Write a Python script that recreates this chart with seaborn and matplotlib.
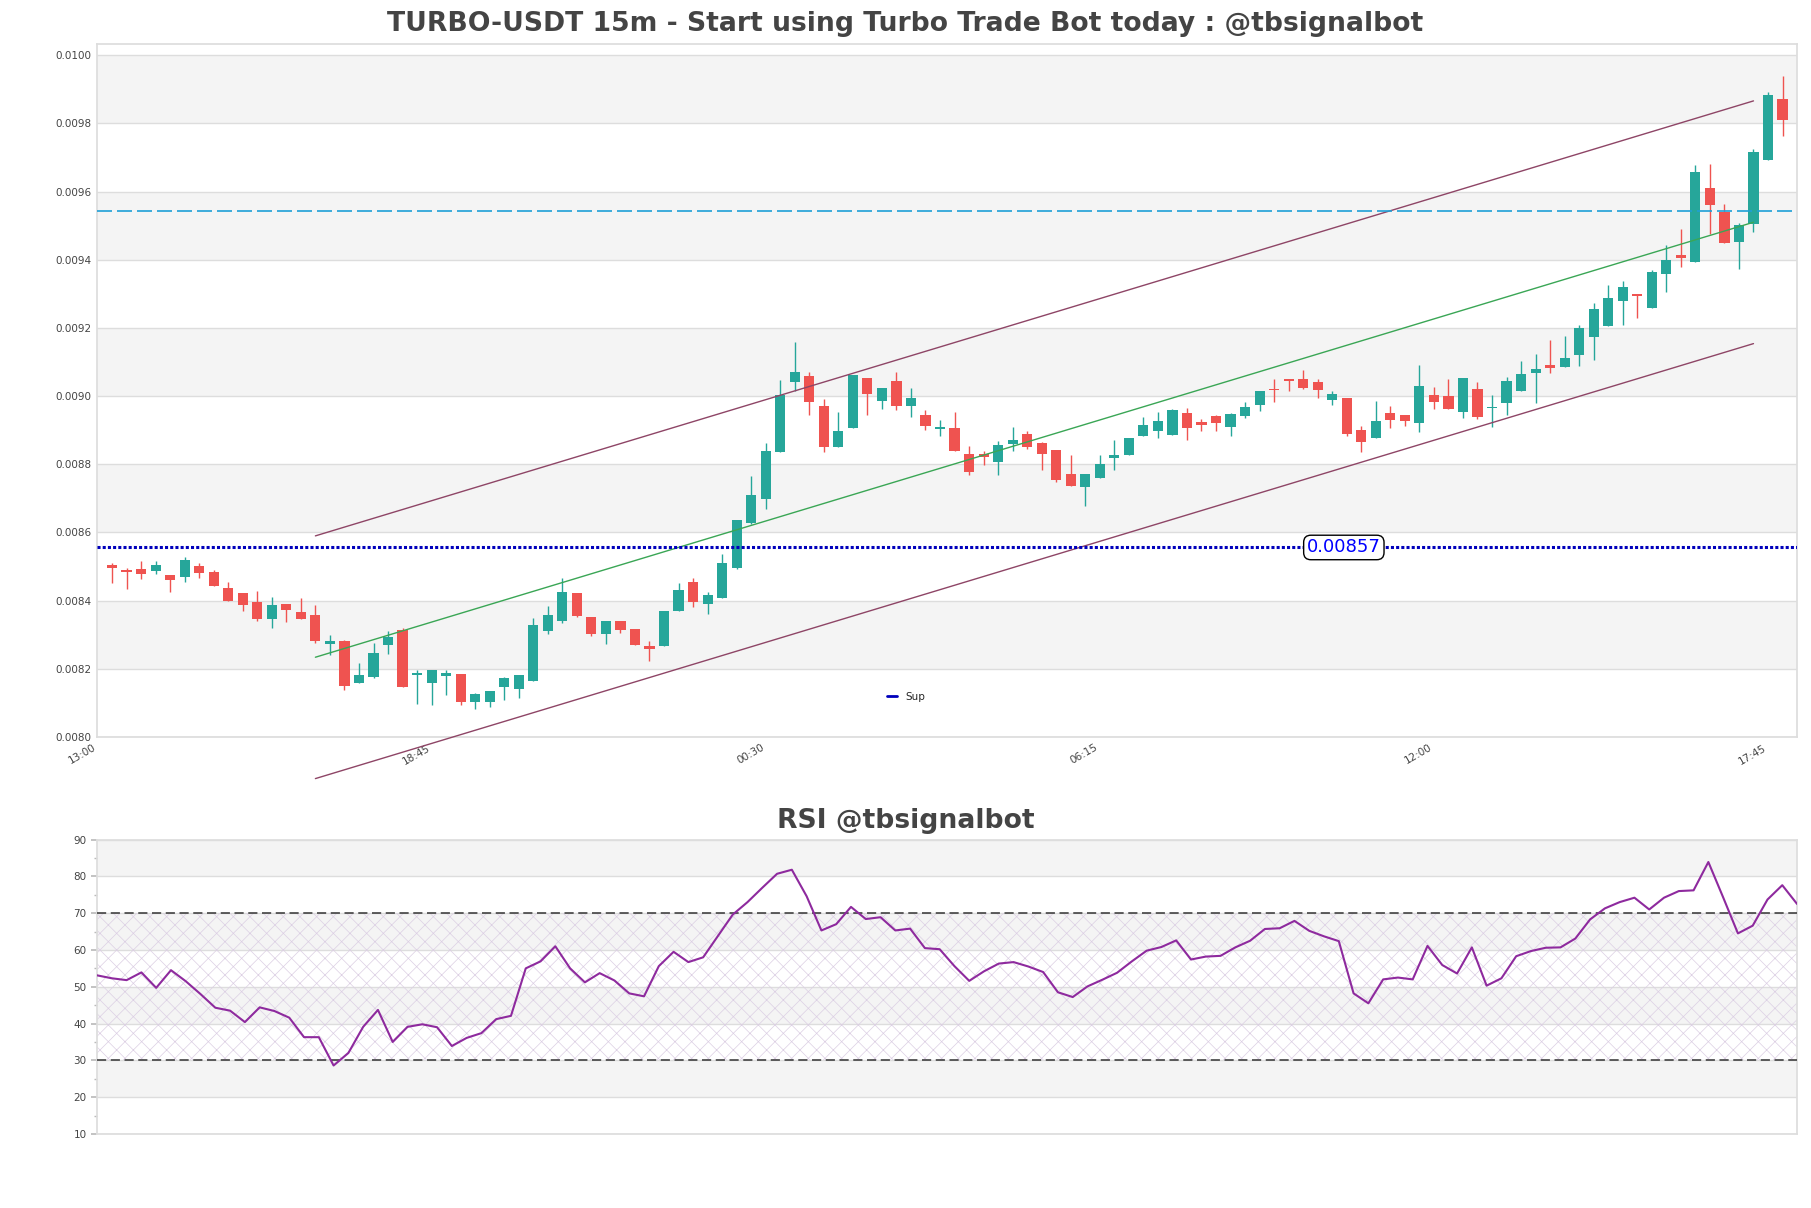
import numpy as np
import pandas as pd
import matplotlib
matplotlib.use("Agg")
import matplotlib.pyplot as plt
import seaborn as sns
from matplotlib.ticker import MultipleLocator

# 15m candles, first one is 13:15
opens = [0.008504, 0.008489, 0.008494, 0.008487, 0.008475, 0.008468, 0.008501, 0.008483, 0.008436, 0.008422,
         0.008395, 0.008345, 0.008389, 0.008366, 0.008357, 0.008272, 0.008283, 0.008158, 0.008175, 0.008270,
         0.008314, 0.008182, 0.008158, 0.008179, 0.008186, 0.008102, 0.008102, 0.008146, 0.008140, 0.008163,
         0.008311, 0.008340, 0.008422, 0.008351, 0.008302, 0.008339, 0.008316, 0.008266, 0.008267, 0.008370,
         0.008454, 0.008390, 0.008407, 0.008497, 0.008628, 0.008697, 0.008836, 0.009041, 0.009060, 0.008972,
         0.008850, 0.008906, 0.009053, 0.008985, 0.009043, 0.008970, 0.008946, 0.008904, 0.008905, 0.008831,
         0.008831, 0.008806, 0.008860, 0.008889, 0.008863, 0.008842, 0.008772, 0.008734, 0.008761, 0.008817,
         0.008828, 0.008884, 0.008899, 0.008887, 0.008951, 0.008925, 0.008942, 0.008908, 0.008943, 0.008975,
         0.009019, 0.009046, 0.009050, 0.009041, 0.008989, 0.008995, 0.008901, 0.008876, 0.008951, 0.008944,
         0.008920, 0.009004, 0.009000, 0.008952, 0.009022, 0.008964, 0.008981, 0.009014, 0.009068, 0.009091,
         0.009085, 0.009120, 0.009173, 0.009205, 0.009279, 0.009300, 0.009258, 0.009358, 0.009415, 0.009393,
         0.009610, 0.009539, 0.009452, 0.009505, 0.009694, 0.009872]
highs = [0.008509, 0.008497, 0.008516, 0.008516, 0.008475, 0.008527, 0.008510, 0.008491, 0.008454, 0.008422,
         0.008428, 0.008410, 0.008389, 0.008407, 0.008386, 0.008298, 0.008286, 0.008216, 0.008275, 0.008312,
         0.008321, 0.008198, 0.008198, 0.008198, 0.008186, 0.008130, 0.008134, 0.008175, 0.008182, 0.008348,
         0.008383, 0.008465, 0.008422, 0.008351, 0.008339, 0.008339, 0.008316, 0.008283, 0.008369, 0.008451,
         0.008465, 0.008424, 0.008536, 0.008638, 0.008765, 0.008861, 0.009046, 0.009160, 0.009072, 0.008992,
         0.008952, 0.009063, 0.009053, 0.009025, 0.009072, 0.009025, 0.008959, 0.008931, 0.008952, 0.008855,
         0.008840, 0.008867, 0.008909, 0.008897, 0.008865, 0.008842, 0.008828, 0.008772, 0.008828, 0.008870,
         0.008877, 0.008939, 0.008954, 0.008961, 0.008966, 0.008933, 0.008945, 0.008951, 0.008983, 0.009015,
         0.009050, 0.009051, 0.009077, 0.009049, 0.009015, 0.008995, 0.008911, 0.008986, 0.008971, 0.008944,
         0.009090, 0.009027, 0.009050, 0.009054, 0.009042, 0.009004, 0.009056, 0.009103, 0.009123, 0.009164,
         0.009175, 0.009210, 0.009274, 0.009327, 0.009337, 0.009300, 0.009371, 0.009442, 0.009489, 0.009678,
         0.009680, 0.009563, 0.009507, 0.009725, 0.009893, 0.009940]
lows = [0.008453, 0.008435, 0.008463, 0.008479, 0.008426, 0.008455, 0.008467, 0.008443, 0.008399, 0.008370,
        0.008340, 0.008320, 0.008337, 0.008345, 0.008275, 0.008242, 0.008137, 0.008158, 0.008173, 0.008243,
        0.008146, 0.008097, 0.008093, 0.008123, 0.008094, 0.008083, 0.008088, 0.008109, 0.008114, 0.008163,
        0.008302, 0.008334, 0.008352, 0.008296, 0.008272, 0.008305, 0.008270, 0.008223, 0.008267, 0.008370,
        0.008381, 0.008361, 0.008407, 0.008494, 0.008626, 0.008670, 0.008836, 0.009014, 0.008946, 0.008836,
        0.008850, 0.008906, 0.008946, 0.008961, 0.008959, 0.008938, 0.008902, 0.008882, 0.008839, 0.008769,
        0.008797, 0.008769, 0.008840, 0.008844, 0.008784, 0.008749, 0.008737, 0.008679, 0.008761, 0.008784,
        0.008828, 0.008884, 0.008878, 0.008887, 0.008870, 0.008899, 0.008899, 0.008884, 0.008937, 0.008955,
        0.008984, 0.009014, 0.009022, 0.008995, 0.008975, 0.008884, 0.008835, 0.008876, 0.008906, 0.008911,
        0.008894, 0.008961, 0.008961, 0.008937, 0.008934, 0.008908, 0.008946, 0.009014, 0.008979, 0.009068,
        0.009085, 0.009088, 0.009105, 0.009205, 0.009210, 0.009229, 0.009258, 0.009305, 0.009380, 0.009393,
        0.009475, 0.009449, 0.009374, 0.009482, 0.009694, 0.009764]
closes = [0.008496, 0.008485, 0.008479, 0.008506, 0.008461, 0.008519, 0.008481, 0.008443, 0.008399, 0.008387,
          0.008345, 0.008386, 0.008373, 0.008345, 0.008282, 0.008281, 0.008149, 0.008182, 0.008245, 0.008292,
          0.008146, 0.008188, 0.008198, 0.008187, 0.008102, 0.008125, 0.008134, 0.008172, 0.008182, 0.008330,
          0.008357, 0.008425, 0.008354, 0.008302, 0.008339, 0.008313, 0.008270, 0.008258, 0.008369, 0.008430,
          0.008397, 0.008416, 0.008510, 0.008638, 0.008711, 0.008840, 0.009002, 0.009070, 0.008982, 0.008850,
          0.008899, 0.009063, 0.009005, 0.009025, 0.008972, 0.008993, 0.008912, 0.008905, 0.008839, 0.008777,
          0.008821, 0.008857, 0.008872, 0.008852, 0.008831, 0.008755, 0.008737, 0.008772, 0.008801, 0.008828,
          0.008877, 0.008916, 0.008927, 0.008958, 0.008905, 0.008914, 0.008920, 0.008948, 0.008969, 0.009015,
          0.009017, 0.009044, 0.009025, 0.009017, 0.009007, 0.008889, 0.008864, 0.008927, 0.008931, 0.008928,
          0.009030, 0.008982, 0.008961, 0.009054, 0.008940, 0.008966, 0.009045, 0.009066, 0.009079, 0.009081,
          0.009112, 0.009200, 0.009257, 0.009289, 0.009319, 0.009293, 0.009363, 0.009398, 0.009405, 0.009657,
          0.009561, 0.009449, 0.009502, 0.009716, 0.009884, 0.009811]

rsi = [53.1, 52.3, 51.8, 53.9, 49.7, 54.5, 51.5, 48.0, 44.3, 43.5,
       40.4, 44.4, 43.4, 41.6, 36.3, 36.3, 28.6, 32.0, 39.1, 43.7,
       35.0, 39.1, 39.8, 39.0, 33.9, 36.1, 37.4, 41.2, 42.1, 55.0,
       56.9, 61.0, 55.0, 51.2, 53.7, 51.7, 48.2, 47.4, 55.6, 59.5,
       56.7, 58.0, 63.8, 69.6, 73.0, 76.9, 80.7, 81.8, 74.6, 65.3,
       67.0, 71.7, 68.4, 68.9, 65.3, 65.8, 60.5, 60.2, 55.6, 51.6,
       54.2, 56.3, 56.7, 55.5, 54.0, 48.5, 47.2, 50.1, 51.9, 53.8,
       56.9, 59.8, 60.8, 62.6, 57.4, 58.2, 58.4, 60.7, 62.5, 65.7,
       65.9, 67.9, 65.2, 63.7, 62.4, 48.2, 45.5, 52.0, 52.5, 52.0,
       61.1, 55.9, 53.6, 60.7, 50.3, 52.3, 58.3, 59.7, 60.6, 60.7,
       63.1, 68.3, 71.3, 73.0, 74.2, 71.0, 74.2, 76.0, 76.2, 83.9,
       74.3, 64.5, 66.6, 73.7, 77.6, 72.5]

# tick every 23 candles, starting one slot before the first candle (13:00)
tick_pos = [-1, 22, 45, 68, 91, 114]
tick_labels = ["13:00", "18:45", "00:30", "06:15", "12:00", "17:45"]

sup_price = 0.008556
sup_label = "0.00857"
res_price = 0.009543

# regression channel
chan_x = [14, 113]
chan_mid = [0.008234, 0.009510]
chan_half = 0.000356

title = "TURBO-USDT 15m - Start using Turbo Trade Bot today : @tbsignalbot"
rsi_title = "RSI @tbsignalbot"

sns.set_theme(style="white")
plt.rcParams['font.family'] = ['DejaVu Sans']
plt.rcParams['hatch.linewidth'] = 0.5

GREEN = '#26a69a'
RED = '#ef5350'
BAND = '#f4f4f4'
GRID = '#dddddd'
TXT = '#444444'

fig = plt.figure(figsize=(18.11, 12.08), dpi=100)
ax = fig.add_axes([0.0536, 0.3899, 0.9387, 0.5737])
ax2 = fig.add_axes([0.0536, 0.0613, 0.9387, 0.2437])

# ---- price panel
df = pd.DataFrame({'o': opens, 'h': highs, 'l': lows, 'c': closes})
df['x'] = np.arange(len(df))
up = df['c'] >= df['o']
cols = np.where(up, GREEN, RED)

for lo in np.arange(0.0082, 0.0099, 0.0004):
    ax.axhspan(lo, lo + 0.0002, color=BAND, zorder=0, lw=0)
ax.yaxis.grid(True, color=GRID, lw=1, zorder=1)
ax.set_axisbelow(True)

ax.vlines(df['x'], df['l'], df['h'], colors=cols, lw=1, zorder=3)
body = np.maximum((df['c'] - df['o']).abs(), 0.000005)
ax.bar(df['x'], body, bottom=np.minimum(df['o'], df['c']), width=0.7, color=cols, zorder=4, lw=0)

ax.plot(chan_x, [m + chan_half for m in chan_mid], color='#8e4566', lw=1, zorder=5, clip_on=False)
ax.plot(chan_x, [m - chan_half for m in chan_mid], color='#8e4566', lw=1, zorder=5, clip_on=False)
ax.plot(chan_x, chan_mid, color='#3aa655', lw=1, zorder=5)

ax.axhline(sup_price, color='#0000bb', ls=(0, (1, 0.7)), lw=2.2, zorder=5, label='Sup')
ax.axhline(res_price, color='#1e9fd6', ls=(0, (9, 3)), lw=1.2, zorder=5)
ax.text(84.8, sup_price, sup_label, color='blue', fontsize=13, ha='center', va='center', zorder=6,
        bbox=dict(boxstyle='round,pad=0.18,rounding_size=0.4', fc='white', ec='black', lw=1))

leg = ax.legend(loc='center left', bbox_to_anchor=(0.459, 0.058), frameon=False,
                fontsize=7.5, handlelength=1.0, handletextpad=0.8)
for ln in leg.get_lines():
    ln.set_linestyle('-')
    ln.set_linewidth(2)

ax.set_xlim(-1.03, 116)
ax.set_ylim(0.0080, 0.010033)
ax.set_yticks(np.arange(0.0080, 0.01001, 0.0002))
ax.set_yticklabels([f"{v:.4f}" for v in np.arange(0.0080, 0.01001, 0.0002)])
ax.set_xticks(tick_pos)
ax.set_xticklabels(tick_labels, rotation=30, ha='right')
ax.tick_params(axis='both', labelsize=7.5, labelcolor=TXT, length=0, pad=4)
for s in ax.spines.values():
    s.set_color(GRID)

# ---- RSI panel
for lo in [20, 40, 60, 80]:
    ax2.axhspan(lo, lo + 10, color=BAND, zorder=0, lw=0)
ax2.axhspan(30, 70, facecolor='none', edgecolor='#dccfe4', hatch='xx', lw=0, zorder=1)
ax2.yaxis.grid(True, color=GRID, lw=1)
ax2.set_axisbelow(True)
ax2.axhline(70, color='#333333', ls=(0, (6, 3)), lw=1.1, zorder=3)
ax2.axhline(30, color='#333333', ls=(0, (6, 3)), lw=1.1, zorder=3)

sns.lineplot(x=np.arange(len(rsi)), y=rsi, ax=ax2, color='#8e2a9e', lw=1.5, zorder=4)

ax2.set_xlim(0, len(rsi) - 1)
ax2.set_ylim(10, 90)
ax2.yaxis.set_major_locator(MultipleLocator(10))
ax2.yaxis.set_minor_locator(MultipleLocator(5))
ax2.set_xticks([])
ax2.set_xlabel('')
ax2.set_ylabel('')
ax2.tick_params(axis='y', which='both', left=True, color='#bbbbbb', labelsize=7.5, labelcolor=TXT)
ax2.tick_params(axis='y', which='major', length=4)
ax2.tick_params(axis='y', which='minor', length=2)
for s in ax2.spines.values():
    s.set_color(GRID)

fig.text(0.5, 1 - 24 / 1208, title, ha='center', va='center', fontsize=19.2, fontweight='bold', color=TXT)
fig.text(0.5, 1 - 821 / 1208, rsi_title, ha='center', va='center', fontsize=19.2, fontweight='bold', color=TXT)

fig.savefig('out.png', dpi=100)
